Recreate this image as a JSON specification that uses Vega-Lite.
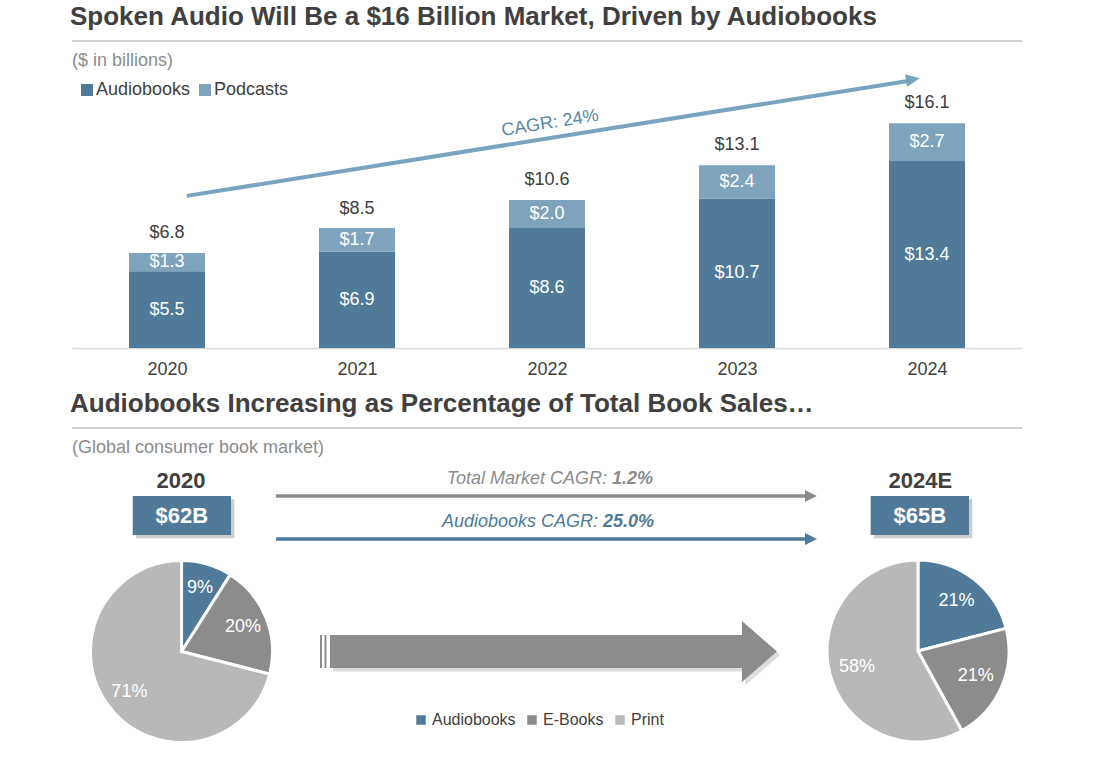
{
  "$schema": "https://vega.github.io/schema/vega-lite/v6.json",
  "padding": {"left": 70, "top": 4, "right": 0, "bottom": 0},
  "background": "white",
  "bounds": "flush",
  "spacing": 80,
  "config": {
    "font": "Liberation Sans",
    "view": {"stroke": null},
    "title": {"anchor": "start", "fontSize": 26, "fontWeight": "bold", "color": "#404040", "frame": "group", "offset": 10, "dx": -2},
    "axisY": {"disable": true},
    "axisX": {"labelFontSize": 18, "labelColor": "#404040", "ticks": false, "grid": false, "domainColor": "#d9d9d9", "domainWidth": 1.5, "labelPadding": 12}
  },
  "datasets": {
    "bars": [
      {"year": 2020, "segment": "Audiobooks", "value": 5.5},
      {"year": 2020, "segment": "Podcasts", "value": 1.3},
      {"year": 2021, "segment": "Audiobooks", "value": 6.9},
      {"year": 2021, "segment": "Podcasts", "value": 1.7},
      {"year": 2022, "segment": "Audiobooks", "value": 8.6},
      {"year": 2022, "segment": "Podcasts", "value": 2.0},
      {"year": 2023, "segment": "Audiobooks", "value": 10.7},
      {"year": 2023, "segment": "Podcasts", "value": 2.4},
      {"year": 2024, "segment": "Audiobooks", "value": 13.4},
      {"year": 2024, "segment": "Podcasts", "value": 2.7}
    ],
    "totals": [
      {"year": 2020, "total": 6.8},
      {"year": 2021, "total": 8.5},
      {"year": 2022, "total": 10.6},
      {"year": 2023, "total": 13.1},
      {"year": 2024, "total": 16.1}
    ],
    "shares": [
      {"year": "2020", "category": "Audiobooks", "share": 0.09},
      {"year": "2020", "category": "E-Books", "share": 0.20},
      {"year": "2020", "category": "Print", "share": 0.71},
      {"year": "2024E", "category": "Audiobooks", "share": 0.21},
      {"year": "2024E", "category": "E-Books", "share": 0.21},
      {"year": "2024E", "category": "Print", "share": 0.58}
    ]
  },
  "resolve": {"scale": {"color": "independent"}, "legend": {"color": "independent"}},
  "vconcat": [
    {
      "title": {"text": "Spoken Audio Will Be a $16 Billion Market, Driven by Audiobooks"},
      "width": 950,
      "height": 307,
      "layer": [
        {
          "data": {"values": [{}]},
          "mark": {"type": "rule", "color": "#bfbfbf", "strokeWidth": 1.5},
          "encoding": {"y": {"datum": 22, "type": "quantitative"}}
        },
        {
          "data": {"values": [{}]},
          "mark": {"type": "text", "text": "($ in billions)", "align": "left", "baseline": "middle", "fontSize": 18, "color": "#8c8c8c"},
          "encoding": {"x": {"datum": 2019.5, "type": "quantitative"}, "y": {"datum": 20.57, "type": "quantitative"}}
        },
        {
          "data": {"name": "bars"},
          "mark": {"type": "bar", "width": 76, "orient": "vertical"},
          "encoding": {
            "x": {"field": "year", "type": "quantitative", "scale": {"domain": [2019.5, 2024.5], "nice": false, "zero": false, "padding": 0}, "axis": {"values": [2020, 2021, 2022, 2023, 2024], "format": "d", "title": null}},
            "y": {"field": "value", "type": "quantitative", "stack": "zero", "scale": {"domain": [0, 22], "nice": false}},
            "order": {"field": "segment", "sort": "ascending"},
            "color": {
              "field": "segment", "type": "nominal",
              "scale": {"domain": ["Audiobooks", "Podcasts"], "range": ["#4f7a99", "#7ea3bd"]},
              "legend": {"orient": "none", "legendX": 6, "legendY": 40, "direction": "horizontal", "title": null, "symbolType": "square", "symbolSize": 144, "symbolStrokeWidth": 0, "labelFontSize": 18, "labelColor": "#404040", "labelOffset": 0, "columnPadding": 5, "padding": 0}
            }
          }
        },
        {
          "data": {"name": "bars"},
          "transform": [
            {"stack": "value", "groupby": ["year"], "sort": [{"field": "segment", "order": "ascending"}], "as": ["v0", "v1"]},
            {"calculate": "(datum.v0 + datum.v1) / 2", "as": "mid"}
          ],
          "mark": {"type": "text", "fontSize": 18, "color": "white", "baseline": "middle"},
          "encoding": {
            "x": {"field": "year", "type": "quantitative"},
            "y": {"field": "mid", "type": "quantitative"},
            "text": {"field": "value", "type": "quantitative", "format": "$.1f"}
          }
        },
        {
          "data": {"name": "totals"},
          "mark": {"type": "text", "fontSize": 18, "color": "#404040", "baseline": "middle", "dy": -20},
          "encoding": {
            "x": {"field": "year", "type": "quantitative"},
            "y": {"field": "total", "type": "quantitative"},
            "text": {"field": "total", "type": "quantitative", "format": "$.1f"}
          }
        },
        {
          "data": {"values": [{}]},
          "mark": {"type": "rule", "color": "#7aa3bf", "strokeWidth": 4},
          "encoding": {
            "x": {"datum": 2020.104, "type": "quantitative"},
            "y": {"datum": 10.9, "type": "quantitative"},
            "x2": {"datum": 2023.9},
            "y2": {"datum": 19.14}
          }
        },
        {
          "data": {"values": [{}]},
          "mark": {"type": "point", "shape": "M-1,-0.9 L1,0 L-1,0.9 Z", "size": 196, "filled": true, "opacity": 1, "color": "#7aa3bf", "angle": 351},
          "encoding": {
            "x": {"datum": 2023.926, "type": "quantitative"},
            "y": {"datum": 19.25, "type": "quantitative"}
          }
        },
        {
          "data": {"values": [{}]},
          "mark": {"type": "text", "text": "CAGR: 24%", "fontSize": 18, "color": "#5a86a5", "angle": 351, "baseline": "middle"},
          "encoding": {
            "x": {"datum": 2022.016, "type": "quantitative"},
            "y": {"datum": 16.1, "type": "quantitative"}
          }
        }
      ]
    },
    {
      "title": {"text": "Audiobooks Increasing as Percentage of Total Book Sales…"},
      "width": 950,
      "height": 330,
      "data": {"values": [{}]},
      "layer": [
        {
          "mark": {"type": "rule", "color": "#bfbfbf", "strokeWidth": 1.5},
          "encoding": {"y": {"datum": 100, "type": "quantitative", "scale": {"domain": [0, 100], "nice": false, "zero": false}, "axis": null}}
        },
        {
          "mark": {"type": "text", "text": "(Global consumer book market)", "align": "left", "baseline": "middle", "fontSize": 18, "color": "#8c8c8c"},
          "encoding": {
            "x": {"datum": 0, "type": "quantitative", "scale": {"domain": [0, 100], "nice": false, "zero": false}, "axis": null},
            "y": {"datum": 93.9, "type": "quantitative", "axis": null}
          }
        },
        {
          "mark": {"type": "text", "text": "2020", "baseline": "middle", "fontSize": 22, "fontWeight": "bold", "color": "#404040"},
          "encoding": {"x": {"datum": 11.47, "type": "quantitative", "axis": null}, "y": {"datum": 83.9, "type": "quantitative", "axis": null}}
        },
        {
          "mark": {"type": "text", "text": "2024E", "baseline": "middle", "fontSize": 22, "fontWeight": "bold", "color": "#404040"},
          "encoding": {"x": {"datum": 89.3, "type": "quantitative", "axis": null}, "y": {"datum": 83.9, "type": "quantitative", "axis": null}}
        },
        {
          "mark": {"type": "rect", "color": "#cccccc"},
          "encoding": {"x": {"datum": 6.74, "type": "quantitative", "axis": null}, "x2": {"datum": 17.09}, "y": {"datum": 78.39, "type": "quantitative", "axis": null}, "y2": {"datum": 66.58}}
        },
        {
          "mark": {"type": "rect", "color": "#cccccc"},
          "encoding": {"x": {"datum": 84.42, "type": "quantitative", "axis": null}, "x2": {"datum": 94.77}, "y": {"datum": 78.39, "type": "quantitative", "axis": null}, "y2": {"datum": 66.58}}
        },
        {
          "mark": {"type": "rect", "color": "#4f7a99"},
          "encoding": {"x": {"datum": 6.39, "type": "quantitative", "axis": null}, "x2": {"datum": 16.74}, "y": {"datum": 79.39, "type": "quantitative", "axis": null}, "y2": {"datum": 67.58}}
        },
        {
          "mark": {"type": "rect", "color": "#4f7a99"},
          "encoding": {"x": {"datum": 84.07, "type": "quantitative", "axis": null}, "x2": {"datum": 94.42}, "y": {"datum": 79.39, "type": "quantitative", "axis": null}, "y2": {"datum": 67.58}}
        },
        {
          "mark": {"type": "text", "text": "$62B", "baseline": "middle", "fontSize": 22, "fontWeight": "bold", "color": "white"},
          "encoding": {"x": {"datum": 11.57, "type": "quantitative", "axis": null}, "y": {"datum": 73.48, "type": "quantitative", "axis": null}}
        },
        {
          "mark": {"type": "text", "text": "$65B", "baseline": "middle", "fontSize": 22, "fontWeight": "bold", "color": "white"},
          "encoding": {"x": {"datum": 89.25, "type": "quantitative", "axis": null}, "y": {"datum": 73.48, "type": "quantitative", "axis": null}}
        },
        {
          "mark": {"type": "rule", "color": "#8c8c8c", "strokeWidth": 3.5},
          "encoding": {"x": {"datum": 21.47, "type": "quantitative", "axis": null}, "x2": {"datum": 77.26}, "y": {"datum": 79.39, "type": "quantitative", "axis": null}}
        },
        {
          "mark": {"type": "point", "shape": "M-1,-1 L1,0 L-1,1 Z", "size": 144, "filled": true, "opacity": 1, "color": "#8c8c8c"},
          "encoding": {"x": {"datum": 77.79, "type": "quantitative", "axis": null}, "y": {"datum": 79.39, "type": "quantitative", "axis": null}}
        },
        {
          "mark": {"type": "rule", "color": "#4f7a99", "strokeWidth": 3.5},
          "encoding": {"x": {"datum": 21.47, "type": "quantitative", "axis": null}, "x2": {"datum": 77.26}, "y": {"datum": 66.36, "type": "quantitative", "axis": null}}
        },
        {
          "mark": {"type": "point", "shape": "M-1,-1 L1,0 L-1,1 Z", "size": 144, "filled": true, "opacity": 1, "color": "#4f7a99"},
          "encoding": {"x": {"datum": 77.79, "type": "quantitative", "axis": null}, "y": {"datum": 66.36, "type": "quantitative", "axis": null}}
        },
        {
          "mark": {"type": "text", "text": "Total Market CAGR:", "align": "right", "baseline": "middle", "dx": -2, "fontSize": 18, "fontStyle": "italic", "color": "#8c8c8c"},
          "encoding": {"x": {"datum": 56.53, "type": "quantitative", "axis": null}, "y": {"datum": 84.55, "type": "quantitative", "axis": null}}
        },
        {
          "mark": {"type": "text", "text": "1.2%", "align": "left", "baseline": "middle", "dx": 3, "fontSize": 18, "fontStyle": "italic", "fontWeight": "bold", "color": "#8c8c8c"},
          "encoding": {"x": {"datum": 56.53, "type": "quantitative", "axis": null}, "y": {"datum": 84.55, "type": "quantitative", "axis": null}}
        },
        {
          "mark": {"type": "text", "text": "Audiobooks CAGR:", "align": "right", "baseline": "middle", "dx": -2, "fontSize": 18, "fontStyle": "italic", "color": "#4f7a99"},
          "encoding": {"x": {"datum": 55.58, "type": "quantitative", "axis": null}, "y": {"datum": 71.5, "type": "quantitative", "axis": null}}
        },
        {
          "mark": {"type": "text", "text": "25.0%", "align": "left", "baseline": "middle", "dx": 3, "fontSize": 18, "fontStyle": "italic", "fontWeight": "bold", "color": "#4f7a99"},
          "encoding": {"x": {"datum": 55.58, "type": "quantitative", "axis": null}, "y": {"datum": 71.5, "type": "quantitative", "axis": null}}
        },
        {
          "mark": {"type": "point", "shape": "M-1,-0.0738 L0.8434,-0.0738 L0.8434,-0.1365 L1,0 L0.8434,0.1365 L0.8434,0.0738 L-1,0.0738 Z", "size": 199809, "filled": true, "opacity": 1, "color": "#dddddd"},
          "encoding": {"x": {"datum": 51.0, "type": "quantitative", "axis": null}, "y": {"datum": 31.2, "type": "quantitative", "axis": null}}
        },
        {
          "mark": {"type": "point", "shape": "M-1,-0.0738 L0.8434,-0.0738 L0.8434,-0.1365 L1,0 L0.8434,0.1365 L0.8434,0.0738 L-1,0.0738 Z", "size": 199809, "filled": true, "opacity": 1, "color": "#8c8c8c"},
          "encoding": {"x": {"datum": 50.68, "type": "quantitative", "axis": null}, "y": {"datum": 32.27, "type": "quantitative", "axis": null}}
        },
        {
          "mark": {"type": "rule", "color": "#8c8c8c", "strokeWidth": 2},
          "encoding": {"x": {"datum": 26.21, "type": "quantitative", "axis": null}, "y": {"datum": 37.27, "type": "quantitative", "axis": null}, "y2": {"datum": 27.27}}
        },
        {
          "mark": {"type": "rule", "color": "#8c8c8c", "strokeWidth": 2},
          "encoding": {"x": {"datum": 26.68, "type": "quantitative", "axis": null}, "y": {"datum": 37.27, "type": "quantitative", "axis": null}, "y2": {"datum": 27.27}}
        },
        {
          "data": {"name": "shares"},
          "transform": [{"filter": "datum.year === '2020'"}],
          "mark": {"type": "arc", "outerRadius": 91, "stroke": "white", "strokeWidth": 3},
          "encoding": {
            "x": {"datum": 11.53, "type": "quantitative", "axis": null},
            "y": {"datum": 32.27, "type": "quantitative", "axis": null},
            "theta": {"field": "share", "type": "quantitative", "stack": true},
            "color": {
              "field": "category", "type": "nominal",
              "scale": {"domain": ["Audiobooks", "E-Books", "Print"], "range": ["#4f7a99", "#8c8c8c", "#b8b8b8"]},
              "legend": {"orient": "none", "legendX": 341, "legendY": 284, "direction": "horizontal", "title": null, "symbolType": "square", "symbolSize": 90, "symbolStrokeWidth": 0, "labelFontSize": 16, "labelColor": "#404040", "labelOffset": 3, "columnPadding": 8, "padding": 0}
            }
          }
        },
        {
          "data": {"name": "shares"},
          "transform": [{"filter": "datum.year === '2020'"}],
          "mark": {"type": "text", "radius": 66, "fontSize": 18, "color": "white", "baseline": "middle"},
          "encoding": {
            "x": {"datum": 11.53, "type": "quantitative", "axis": null},
            "y": {"datum": 32.27, "type": "quantitative", "axis": null},
            "theta": {"field": "share", "type": "quantitative", "stack": true},
            "detail": {"field": "category", "type": "nominal"},
            "text": {"field": "share", "type": "quantitative", "format": ".0%"}
          }
        },
        {
          "data": {"name": "shares"},
          "transform": [{"filter": "datum.year === '2024E'"}],
          "mark": {"type": "arc", "outerRadius": 91, "stroke": "white", "strokeWidth": 3},
          "encoding": {
            "x": {"datum": 89.05, "type": "quantitative", "axis": null},
            "y": {"datum": 32.42, "type": "quantitative", "axis": null},
            "theta": {"field": "share", "type": "quantitative", "stack": true},
            "color": {"field": "category", "type": "nominal"}
          }
        },
        {
          "data": {"name": "shares"},
          "transform": [{"filter": "datum.year === '2024E'"}],
          "mark": {"type": "text", "radius": 63, "fontSize": 18, "color": "white", "baseline": "middle"},
          "encoding": {
            "x": {"datum": 89.05, "type": "quantitative", "axis": null},
            "y": {"datum": 32.42, "type": "quantitative", "axis": null},
            "theta": {"field": "share", "type": "quantitative", "stack": true},
            "detail": {"field": "category", "type": "nominal"},
            "text": {"field": "share", "type": "quantitative", "format": ".0%"}
          }
        }
      ]
    }
  ]
}
